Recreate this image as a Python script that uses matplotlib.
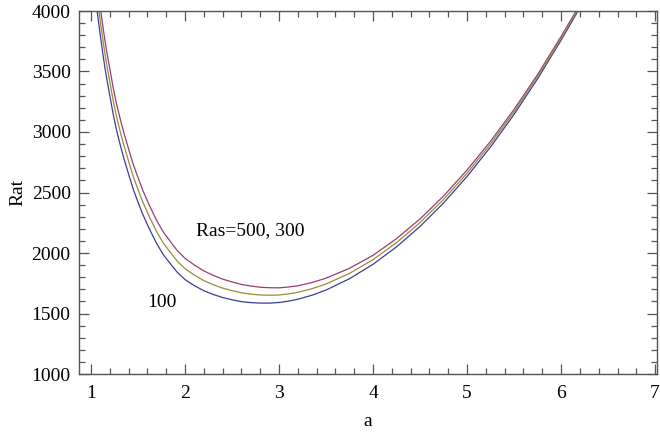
import matplotlib
matplotlib.use("Agg")
import matplotlib.pyplot as plt
from matplotlib.ticker import MultipleLocator

plt.rcParams['font.family'] = ['Liberation Serif', 'DejaVu Serif']

a_vals = [1.065, 1.08, 1.10, 1.125, 1.15, 1.175, 1.20, 1.235, 1.27, 1.31, 1.35, 1.40, 1.45,
          1.50, 1.55, 1.62, 1.70, 1.77, 1.85, 1.92, 2.00, 2.10, 2.20, 2.30, 2.40, 2.50, 2.60,
          2.70, 2.80, 2.90, 3.00, 3.10, 3.20, 3.35, 3.50, 3.75, 4.00, 4.25, 4.50, 4.75, 5.00,
          5.25, 5.50, 5.75, 6.00, 6.18]
rat_ras100 = [4000, 3910, 3790, 3650, 3520, 3405, 3300, 3150, 3020, 2895, 2780, 2650, 2525,
              2420, 2320, 2200, 2075, 1985, 1905, 1838, 1780, 1730, 1688, 1657, 1632, 1613, 1598,
              1590, 1586, 1586, 1591, 1602, 1618, 1651, 1694, 1788, 1907, 2051, 2220, 2414, 2633,
              2877, 3146, 3440, 3759, 4000]
rat_ras300 = [4120, 4029, 3908, 3767, 3636, 3520, 3414, 3262, 3131, 3005, 2888, 2757, 2630,
              2524, 2422, 2300, 2173, 2081, 1999, 1930, 1870, 1817, 1772, 1738, 1710, 1689, 1671,
              1660, 1653, 1651, 1653, 1662, 1675, 1705, 1744, 1832, 1945, 2086, 2252, 2443, 2660,
              2901, 3167, 3458, 3775, 4014]
rat_ras500 = [4234, 4142, 4020, 3878, 3746, 3629, 3522, 3368, 3236, 3109, 2991, 2859, 2730,
              2623, 2519, 2395, 2266, 2172, 2088, 2017, 1956, 1900, 1852, 1815, 1784, 1761, 1740,
              1727, 1717, 1713, 1712, 1719, 1729, 1756, 1792, 1874, 1981, 2119, 2282, 2471, 2686,
              2924, 3187, 3475, 3790, 4027]

c_blue = (0.24, 0.24, 0.6)
c_olive = (0.6, 0.547, 0.24)
c_purple = (0.6, 0.24, 0.443)

fig = plt.figure(figsize=(6.6, 4.36), dpi=100)
ax = fig.add_axes([79/660, 1-374/436, (657-79)/660, (374-11)/436])

ax.plot(a_vals, rat_ras100, color=c_blue, lw=0.9, solid_joinstyle='round')
ax.plot(a_vals, rat_ras500, color=c_purple, lw=0.9, solid_joinstyle='round')
ax.plot(a_vals, rat_ras300, color=c_olive, lw=0.9, solid_joinstyle='round')

ax.set_xlim(0.872, 7.02)
ax.set_ylim(1000, 4000)
ax.xaxis.set_major_locator(MultipleLocator(1))
ax.xaxis.set_minor_locator(MultipleLocator(0.2))
ax.yaxis.set_major_locator(MultipleLocator(500))
ax.yaxis.set_minor_locator(MultipleLocator(100))

frame_col = '#555555'
for s in ax.spines.values():
    s.set_color(frame_col)
    s.set_linewidth(1.0)
ax.tick_params(which='both', direction='in', top=True, right=True, color=frame_col,
               labelsize=14, labelcolor='black', width=0.9)
ax.tick_params(which='major', length=7)
ax.tick_params(axis='x', which='major', pad=8)
ax.tick_params(axis='y', which='major', pad=6)
ax.tick_params(which='minor', length=4)

ax.set_xlabel('a', fontsize=14, labelpad=8)
ax.set_ylabel('Rat', fontsize=14, labelpad=4)

ax.text(2.12, 2185, 'Ras=500, 300', fontsize=14, ha='left', va='center')
ax.text(1.60, 1595, '100', fontsize=14, ha='left', va='center')

fig.savefig('out.png', dpi=100)
